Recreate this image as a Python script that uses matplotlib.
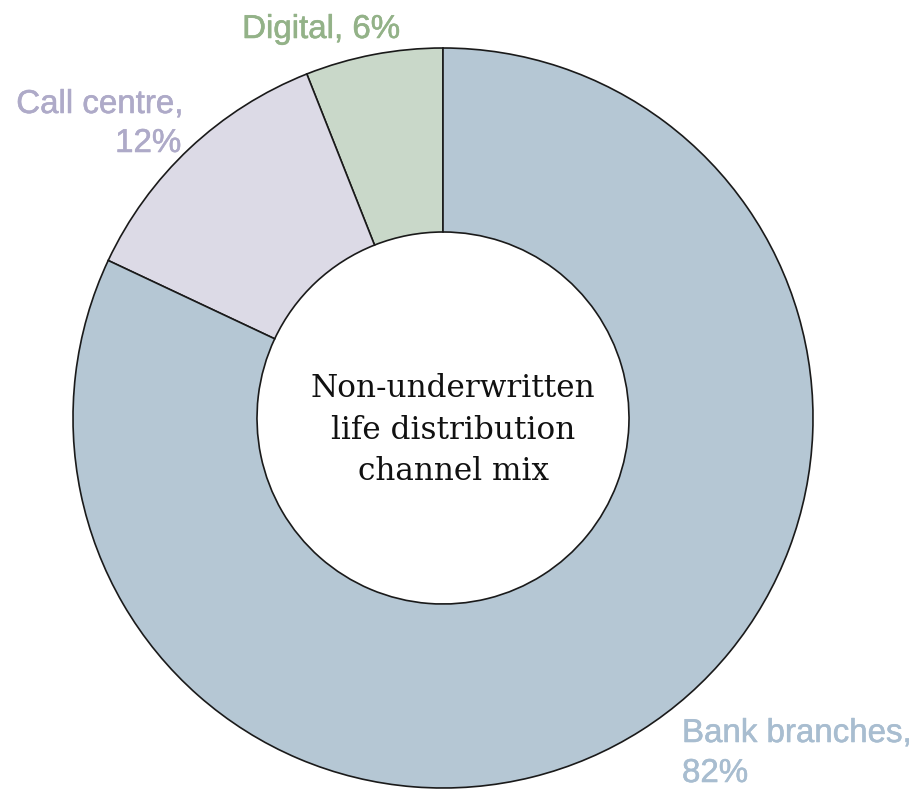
import matplotlib.pyplot as plt
import matplotlib.patheffects as pe

# Vertriebskanäle, gegen den Uhrzeigersinn ab 12 Uhr
kanaele = ['Digital', 'Call centre', 'Bank branches']
anteile = [6, 12, 82]
farben = ['#c9d8c9', '#dcdae6', '#b5c7d4']
textfarben = ['#93b288', '#aeaac8', '#a8bdd0']

breite, hoehe = 918, 789
fig = plt.figure(figsize=(breite / 100, hoehe / 100), dpi=100)
ax = fig.add_axes([0, 0, 1, 1])
ax.set_aspect('equal')
ax.axis('off')

# Ring
ax.pie(anteile, colors=farben, startangle=90, counterclock=True,
       center=(443, hoehe - 418), radius=370,
       wedgeprops=dict(width=184, edgecolor='#1a1a1a', linewidth=1.2))
ax.set_xlim(0, breite)
ax.set_ylim(0, hoehe)

# Text in der Mitte
ax.text(453, hoehe - 430, 'Non-underwritten\nlife distribution\nchannel mix',
        ha='center', va='center', fontsize=22.4, family='DejaVu Serif',
        color='#111111', linespacing=1.45)

# Beschriftungen, etwas kräftiger gezeichnet
def beschriften(x, y, text, ha, farbe):
    t = ax.text(x, hoehe - y, text, ha=ha, va='baseline', color=farbe,
                fontsize=23.8, family='Liberation Sans')
    t.set_path_effects([pe.withStroke(linewidth=0.4, foreground=farbe)])

beschriften(321, 38, f'{kanaele[0]}, {anteile[0]}%', 'center', textfarben[0])
beschriften(183, 113, f'{kanaele[1]},', 'right', textfarben[1])
beschriften(181, 152, f'{anteile[1]}%', 'right', textfarben[1])
beschriften(682, 742, f'{kanaele[2]},', 'left', textfarben[2])
beschriften(682, 782, f'{anteile[2]}%', 'left', textfarben[2])

fig.savefig('out.png', dpi=100)
